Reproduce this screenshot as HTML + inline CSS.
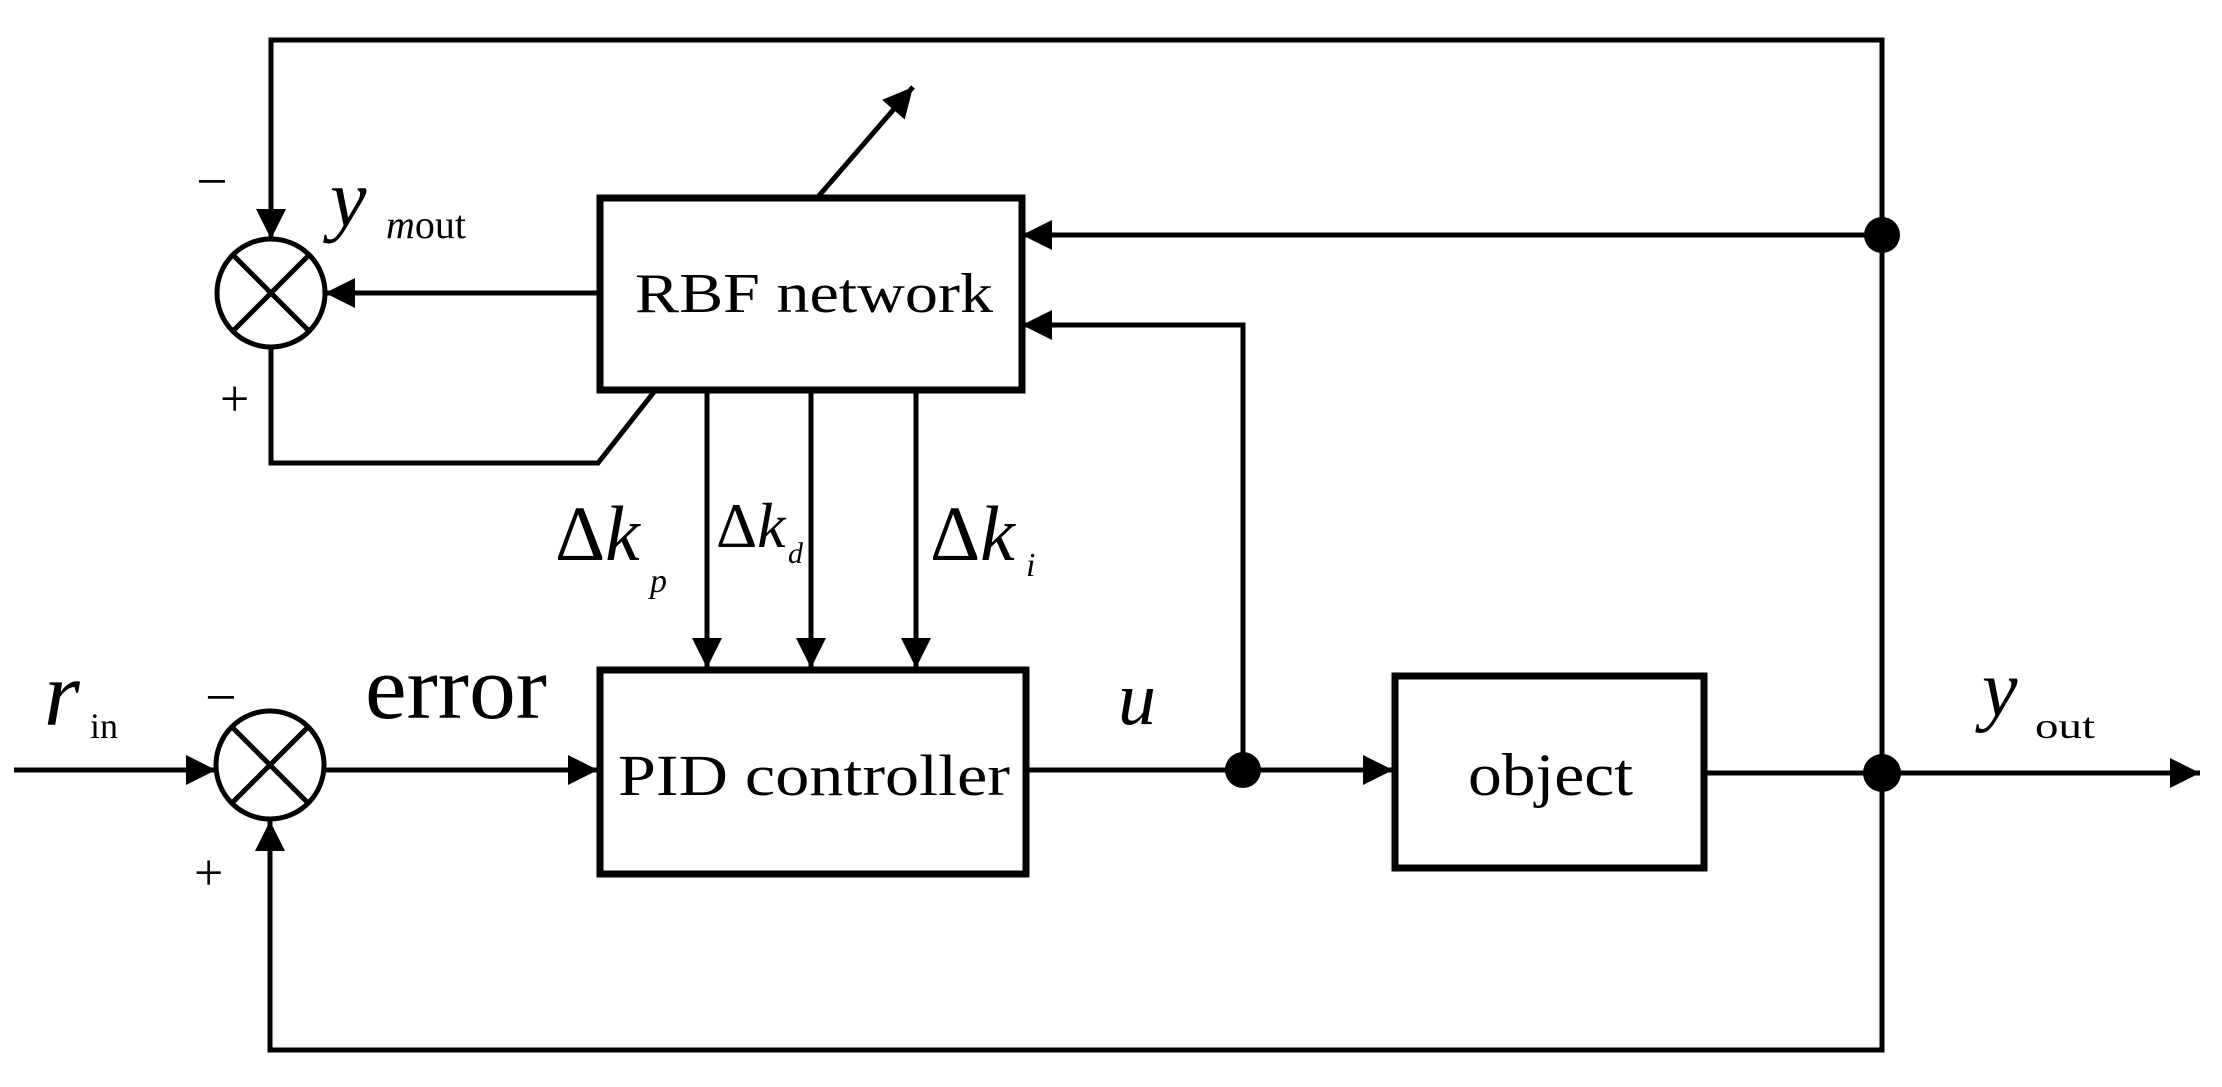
<!DOCTYPE html>
<html><head><meta charset="utf-8"><style>
html,body{margin:0;padding:0;background:#fff;}
svg{display:block;}
text{font-family:"Liberation Serif",serif;fill:#000;}
</style></head><body>
<svg width="2222" height="1087" viewBox="0 0 2222 1087" xmlns="http://www.w3.org/2000/svg">
<defs>
<marker id="ah" viewBox="0 0 10 10" refX="10" refY="5" markerWidth="11" markerHeight="6" markerUnits="strokeWidth" orient="auto">
<path d="M0,0 L10,5 L0,10 z" fill="#000"/>
</marker>
</defs>
<g fill="none" stroke="#000" stroke-width="5">
<rect x="600" y="198" width="422" height="192" stroke-width="7"/>
<rect x="600" y="670" width="426" height="204" stroke-width="7"/>
<rect x="1395" y="676" width="309" height="192" stroke-width="7"/>
<circle cx="271" cy="293" r="54"/>
<line x1="233" y1="255" x2="309" y2="331"/><line x1="309" y1="255" x2="233" y2="331"/>
<circle cx="270" cy="765" r="54"/>
<line x1="232" y1="727" x2="308" y2="803"/><line x1="308" y1="727" x2="232" y2="803"/>
<polyline points="1882,773 1882,40 271,40 271,239" marker-end="url(#ah)"/>
<line x1="600" y1="293" x2="325" y2="293" marker-end="url(#ah)"/>
<polyline points="271,347 271,463 598,463 654,392"/>
<line x1="817" y1="198" x2="913" y2="87" marker-end="url(#ah)"/>
<line x1="1882" y1="235" x2="1022" y2="235" marker-end="url(#ah)"/>
<polyline points="1243,770 1243,325 1022,325" marker-end="url(#ah)"/>
<line x1="707" y1="390" x2="707" y2="668" marker-end="url(#ah)"/>
<line x1="811" y1="390" x2="811" y2="668" marker-end="url(#ah)"/>
<line x1="916" y1="390" x2="916" y2="668" marker-end="url(#ah)"/>
<line x1="14" y1="770" x2="216" y2="770" marker-end="url(#ah)"/>
<line x1="324" y1="770" x2="598" y2="770" marker-end="url(#ah)"/>
<line x1="1026" y1="770" x2="1393" y2="770" marker-end="url(#ah)"/>
<line x1="1704" y1="773" x2="2200" y2="773" marker-end="url(#ah)"/>
<polyline points="1882,773 1882,1050 270,1050 270,821" marker-end="url(#ah)"/>
</g>
<circle cx="1882" cy="235" r="18" fill="#000"/>
<circle cx="1243" cy="770" r="18" fill="#000"/>
<circle cx="1882" cy="773" r="19" fill="#000"/>
<text x="635" y="312" font-size="56" textLength="358" lengthAdjust="spacingAndGlyphs">RBF network</text>
<text x="618" y="795" font-size="58" textLength="392" lengthAdjust="spacingAndGlyphs">PID controller</text>
<text x="1468" y="795" font-size="60" textLength="165" lengthAdjust="spacingAndGlyphs">object</text>
<text x="365" y="718" font-size="90" textLength="182" lengthAdjust="spacingAndGlyphs">error</text>
<text x="330" y="226" font-size="82" font-style="italic">y</text>
<text x="386" y="238" font-size="40"><tspan font-style="italic">m</tspan>out</text>
<text x="44" y="725" font-size="92" font-style="italic">r</text>
<text x="90" y="738" font-size="36">in</text>
<text x="1982" y="716" font-size="80" font-style="italic">y</text>
<text x="2035" y="738" font-size="36" textLength="60" lengthAdjust="spacingAndGlyphs">out</text>
<text x="1118" y="724" font-size="76" font-style="italic">u</text>
<text x="555" y="560" font-size="78">Δ<tspan font-style="italic">k</tspan></text>
<text x="650" y="592" font-size="34" font-style="italic">p</text>
<text x="716" y="547" font-size="64" fill="#222">Δ<tspan font-style="italic">k</tspan></text>
<text x="788" y="563" font-size="30" font-style="italic">d</text>
<text x="930" y="560" font-size="78">Δ<tspan font-style="italic">k</tspan></text>
<text x="1026" y="576" font-size="34" font-style="italic">i</text>
<text x="196" y="200" font-size="56">−</text>
<text x="220" y="416" font-size="52">+</text>
<text x="205" y="716" font-size="56">−</text>
<text x="194" y="890" font-size="52">+</text>
</svg>
</body></html>
